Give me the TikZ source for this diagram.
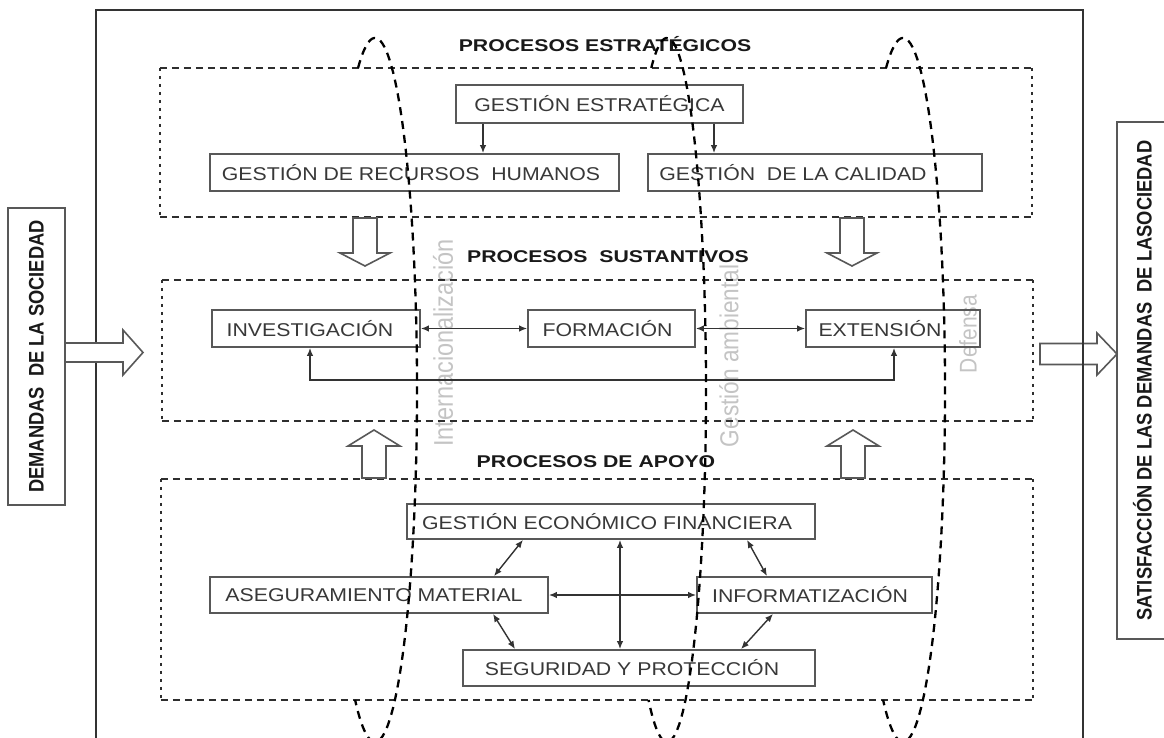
\documentclass[tikz,border=0pt]{standalone}
\usepackage{graphicx}
\usepackage{fontspec}
\setmainfont{Liberation Sans}
\newfontfamily\boxfont[FakeStretch=1.15]{Liberation Sans}
\newfontfamily\ttlfont[FakeStretch=1.25]{Liberation Sans}
\usetikzlibrary{arrows.meta,calc}
\definecolor{framec}{HTML}{333333}
\definecolor{bord}{HTML}{585858}
\definecolor{txt}{HTML}{383838}
\definecolor{faint}{HTML}{C4C4C4}
\definecolor{dsh}{HTML}{2E2E2E}
\begin{document}
\begin{tikzpicture}[x=1pt,y=-1pt,
  procbox/.style={draw=bord, line width=1.8pt, inner sep=0pt, minimum height=37pt, text=txt, font=\boxfont\fontsize{18.5}{20}\selectfont},
  ttl/.style={font=\ttlfont\bfseries\fontsize{17}{19}\selectfont, text=black!90, inner sep=0pt},
  sidebox/.style={draw=bord, line width=1.6pt, inner sep=0pt, rotate=90, font=\bfseries\fontsize{18.3}{20}\selectfont, text=black!90},
  faintlbl/.style={text=faint, inner sep=0pt, rotate=90},
  grp/.style={inner sep=0pt},
  hd/.style={draw=dsh, line width=1.7pt, dash pattern=on 7pt off 5pt},
  vd/.style={draw=dsh, line width=1.7pt, dash pattern=on 3.5pt off 4.5pt},
  ell/.style={draw=black, line width=2.3pt, dash pattern=on 8pt off 6pt},
  conn/.style={draw=black!80, line width=1.4pt},
  dblarr/.style={conn, {Latex[length=8pt,width=6.5pt]}-{Latex[length=8pt,width=6.5pt]}},
  sglarr/.style={conn, -{Latex[length=8pt,width=6.5pt]}},
  blk/.style={draw=bord, line width=1.6pt, fill=white, line join=miter},
]
\useasboundingbox (0,0) rectangle (1164,738);
\fill[white] (0,0) rectangle (1164,738);

% faint rotated labels (background)
\node[faintlbl, font=\fontsize{23.5}{25}\selectfont] (lint) at (443,343) {\scalebox{1}[1.15]{Internacionalización}};
\node[faintlbl, font=\fontsize{22.6}{24}\selectfont] (lamb) at (729,356) {\scalebox{1}[1.15]{Gestión ambiental}};
\node[faintlbl, font=\fontsize{21}{23}\selectfont] (ldef) at (968,334) {\scalebox{1}[1.15]{Defensa}};

% right side block arrow (frame line passes over it)
\draw[blk] (1040,343.5) -- (1097,343.5) -- (1097,333) -- (1117,354) -- (1097,375) -- (1097,364.5) -- (1040,364.5) -- cycle;

% outer frame
\draw[draw=framec, line width=2.6pt] (96,745) -- (96,10) -- (1083,10) -- (1083,745);

% side boxes
\node[sidebox, minimum width=297pt, minimum height=57pt] (dem) at (36.5,356.5) {\scalebox{1}[1.15]{DEMANDAS\ \ DE LA SOCIEDAD}};
\node[sidebox, minimum width=517pt, minimum height=51pt] (sat) at (1142.5,380.5) {\scalebox{1}[1.15]{SATISFACCIÓN DE LAS DEMANDAS\ \ DE LASOCIEDAD}};

% left side block arrow
\draw[blk] (65,343) -- (123,343) -- (123,330) -- (143,352.5) -- (123,375) -- (123,362) -- (65,362) -- cycle;

% dashed group boxes
\node[grp, minimum width=872pt, minimum height=149pt] (gest) at (596,142.5) {};
\node[grp, minimum width=871pt, minimum height=141pt] (gsus) at (597.5,350.5) {};
\node[grp, minimum width=872pt, minimum height=221pt] (gapo) at (597,589.5) {};
\foreach \g in {gest,gsus,gapo}{
  \draw[hd] (\g.north west) -- (\g.north east);
  \draw[hd] (\g.south west) -- (\g.south east);
  \draw[vd] (\g.north west) -- (\g.south west);
  \draw[vd] (\g.north east) -- (\g.south east);
}

% titles
\node[ttl] (t1) at (605,44) {PROCESOS ESTRATÉGICOS};
\node[ttl] (t2) at (608,257) {PROCESOS\ \ SUSTANTIVOS};
\node[ttl] (t3) at (596,462) {PROCESOS DE APOYO};

% strategic
\node[procbox, minimum width=287pt, minimum height=38pt] (ge) at (599.5,104) {GESTIÓN ESTRATÉGICA};
\node[procbox, minimum width=409pt] (rh) at (414.5,172.5) {GESTIÓN DE RECURSOS\ \ HUMANOS\hspace*{7pt}};
\node[procbox, minimum width=334pt] (cal) at (815,172.5) {GESTIÓN\ \ DE LA CALIDAD\hspace*{44pt}};
\coordinate (xa) at (483,0);
\coordinate (xb) at (714,0);
\draw[sglarr] (ge.south -| xa) -- (rh.north -| xa);
\draw[sglarr] (ge.south -| xb) -- (cal.north -| xb);

% substantive
\node[procbox, minimum width=208pt] (inv) at (316,328.5) {INVESTIGACIÓN\hspace*{12pt}};
\node[procbox, minimum width=167pt] (form) at (611.5,328.5) {FORMACIÓN\hspace*{8pt}};
\node[procbox, minimum width=174pt] (ext) at (893,328.5) {EXTENSIÓN\hspace*{26pt}};
\draw[dblarr] (inv.east) -- (form.west);
\draw[dblarr] (form.east) -- (ext.west);
\coordinate (la) at (310,380);
\coordinate (lb) at (894,380);
\draw[dblarr] (inv.south -| la) -- (la) -- (lb) -- (ext.south -| lb);

% support
\node[procbox, minimum width=408pt, minimum height=35pt] (gef) at (611,521.5) {GESTIÓN ECONÓMICO FINANCIERA\hspace*{8pt}};
\node[procbox, minimum width=338pt, minimum height=36pt] (am) at (379,595) {ASEGURAMIENTO MATERIAL\hspace*{10pt}};
\node[procbox, minimum width=235pt, minimum height=36pt] (inf) at (814.5,595) {INFORMATIZACIÓN\hspace*{9pt}};
\node[procbox, minimum width=352pt, minimum height=36pt] (seg) at (639,668) {SEGURIDAD Y PROTECCIÓN\hspace*{14pt}};
\draw[dblarr] ([xshift=-88pt]gef.south) -- ([xshift=115pt]am.north);
\draw[dblarr] ([xshift=136pt]gef.south) -- ([xshift=-47.5pt]inf.north);
\draw[dblarr] (am.east) -- (inf.west);
\draw[dblarr] ([xshift=9pt]gef.south) -- ([xshift=-19pt]seg.north);
\draw[dblarr] ([xshift=114pt]am.south) -- ([xshift=-124pt]seg.north);
\draw[dblarr] ([xshift=-41.5pt]inf.south) -- ([xshift=102pt]seg.north);

% hollow block arrows between groups
\draw[blk] (353,218) -- (377,218) -- (377,253) -- (390,253) -- (365,266) -- (340,253) -- (353,253) -- cycle;
\draw[blk] (840,218) -- (864,218) -- (864,253) -- (877,253) -- (852,266) -- (827,253) -- (840,253) -- cycle;
\draw[blk] (362,478) -- (386,478) -- (386,446) -- (400,446) -- (374,430) -- (348,446) -- (362,446) -- cycle;
\draw[blk] (841,478) -- (865,478) -- (865,446) -- (879,446) -- (853,430) -- (827,446) -- (841,446) -- cycle;

% dashed ellipses (cross-cutting axes)
\coordinate (c1) at (375,390);
\coordinate (c2) at (667,390);
\coordinate (c3) at (903,390);
\draw[ell] (c1) ++(246.2:42 and 352) arc[start angle=246.2, end angle=478.3, x radius=42, y radius=352];
\draw[ell] (c2) ++(246.2:39 and 352) arc[start angle=246.2, end angle=478.3, x radius=39, y radius=352];
\draw[ell] (c3) ++(246.2:42 and 352) arc[start angle=246.2, end angle=478.3, x radius=42, y radius=352];
\end{tikzpicture}
\end{document}
